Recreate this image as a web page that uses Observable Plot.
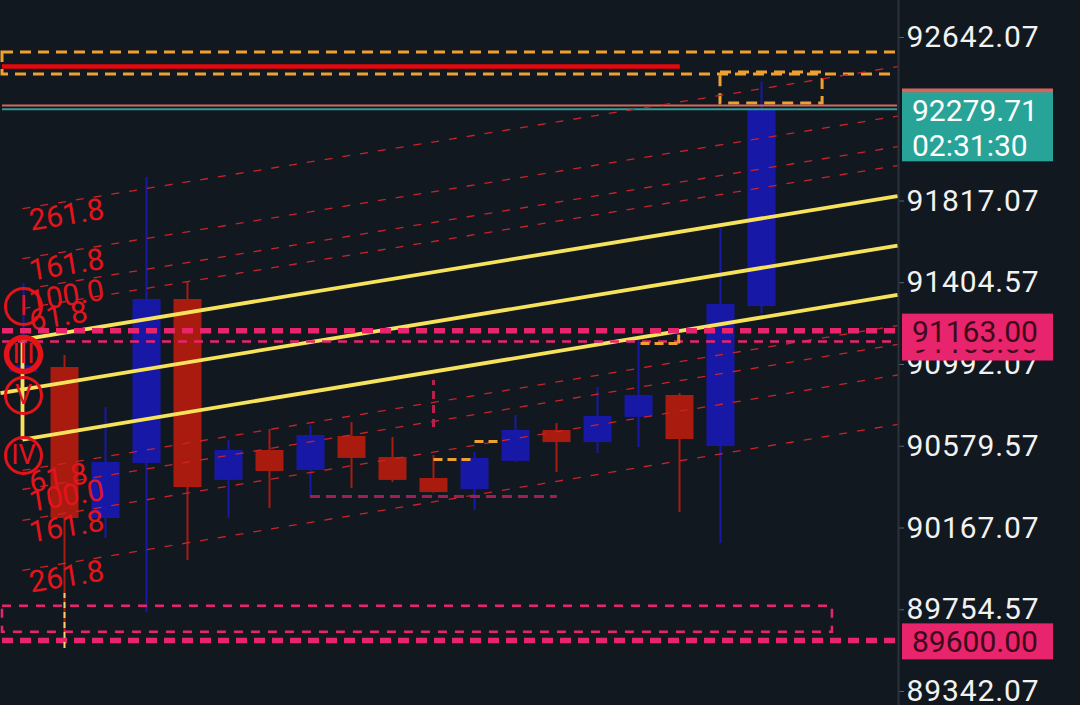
<!DOCTYPE html>
<html>
<head>
<meta charset="utf-8">
<script src="https://cdn.jsdelivr.net/npm/d3@7"></script>
<script src="https://cdn.jsdelivr.net/npm/@observablehq/plot@0.6"></script>
<style>
  html, body { margin: 0; padding: 0; background: #121820; }
  #chart svg { display: block; }
  #chart g[aria-label="y-axis tick label"] text { letter-spacing: 0.9px; }
</style>
</head>
<body>
<div id="chart"></div>
<script>
// ---------------- data ----------------
const bars   = [0, 1, 2, 3, 4, 5, 6, 7, 8, 9, 10, 11, 12, 13, 14, 15, 16, 17, 18];
const opens  = [90952, 90977, 90215, 90492, 91320, 90407, 90558, 90457, 90629, 90523, 90417, 90361, 90503, 90659, 90598, 90725, 90836, 90578, 91285];
const highs  = [91401, 91037, 90775, 91936, 91411, 90609, 90664, 90684, 90699, 90624, 90533, 90548, 90735, 90694, 90876, 91128, 90846, 91678, 92415];
const lows   = [90937, 89640, 90114, 89741, 90003, 90215, 90265, 90321, 90366, 90397, 90343, 90255, 90498, 90447, 90543, 90573, 90245, 90089, 91249];
const closes = [90985, 90215, 90498, 91320, 90371, 90558, 90452, 90634, 90518, 90407, 90346, 90518, 90659, 90598, 90730, 90836, 90614, 91295, 92279.71];

// 92229.57 also lies on the grid but is hidden behind the current-price tag
const tickValues = [92642.07, 91817.07, 91404.57, 90992.07, 90579.57, 90167.07, 89754.57, 89342.07];
const xDomain = [-0.561, 21.317];        // visible bar range
const yDomain = [89271.43, 92828.77];    // visible price range

const currentPrice = 92279.71;
const countdown = "02:31:30";
const salmonLevel = 92299;
const redLevel = 92496;
const redLevelEnd = 16.02;
const pinkThickLevels = [91163, 89600];
const pinkThinLevel = 91108;
const lineStartBar = -0.512;

const orangeZoneTop = {bar1: -0.512, bar2: 23, top: 92566.4, bottom: 92455.4};
const orangeZoneSmall = {bar1: 17.0, bar2: 19.49, top: 92465.5, bottom: 92309};
const pinkZone = {bar1: -0.512, bar2: 19.73, top: 89772.5, bottom: 89641};
const magentaLevel = {bar1: 7.0, bar2: 13.02, price: 90326};
const orangeSteps = [
  {bar1: 10.0, bar2: 11.0, price1: 90512.7, price2: 90512.7},
  {bar1: 11.0, bar2: 11.66, price1: 90603.5, price2: 90603.5},
  {bar1: 15.05, bar2: 15.98, price1: 91098, price2: 91098},
  {bar1: 15.98, bar2: 15.98, price1: 91098, price2: 91143}
];
const pinkVertical = {bar: 10.0, from: 90674, to: 90911};
const yellowDashVertical = {bar: 1, from: 89559, to: 89836.6};

// fibonacci channel
const channelBars = [-0.0244, 21.317];
const channelTop = [91118.2, 91841.8];
const channelBottom = [90613.6, 91342.8];
const fibLevels = [61.8, 100, 161.8, 261.8];
const fibLabelBar = 0.1;

// wave labels
const waveNames = ["I", "III", "V", "IV"];
const wavePrices = [91284.8, 91042.5, 90835.7, 90532.9];
const waveBar = 0;

// axis price tags
const tagPrices = [salmonLevel, currentPrice, pinkThinLevel, 91163, 89600];
const tagTexts = [[], ["92279.71", countdown], ["91108.00"], ["91163.00"], ["89600.00"]];
const tagKinds = ["salmon", "teal", "pink", "pink", "pink"];

// ---------------- derived ----------------
const candles = bars.map((b, i) => ({bar: b, open: opens[i], high: highs[i], low: lows[i], close: closes[i]}));
const up = candles.filter(d => d.close >= d.open);
const down = candles.filter(d => d.close < d.open);

const at = (b, vs) => vs[0] + (vs[1] - vs[0]) * (b - channelBars[0]) / (channelBars[1] - channelBars[0]);
const half = [0, 1].map(k => (channelTop[k] - channelBottom[k]) / 2);
const mid = [0, 1].map(k => (channelTop[k] + channelBottom[k]) / 2);

const yellowLines = [
  {x1: channelBars[0], y1: channelTop[0], x2: channelBars[1], y2: channelTop[1]},
  {x1: xDomain[0], y1: at(xDomain[0], mid), x2: channelBars[1], y2: mid[1]},
  {x1: channelBars[0], y1: channelBottom[0], x2: channelBars[1], y2: channelBottom[1]},
  {x1: channelBars[0], y1: channelBottom[0], x2: channelBars[0], y2: channelTop[0]}
];

const fibLines = [];
const fibLabels = [];
for (const L of fibLevels) {
  const f = L / 100;
  const upV = [0, 1].map(k => channelTop[k] + f * half[k]);
  const dnV = [0, 1].map(k => channelBottom[k] - f * half[k]);
  for (const v of [upV, dnV]) {
    fibLines.push({x1: channelBars[0], y1: v[0], x2: channelBars[1], y2: v[1]});
    fibLabels.push({x: fibLabelBar, y: at(fibLabelBar, v), text: L.toFixed(1)});
  }
}

const waves = waveNames.map((n, i) => ({name: n, price: wavePrices[i], bar: waveBar}));

// ---------------- colours ----------------
const BLUE = "#1818a6";
const RED = "#a81b0e";
const YELLOW = "#f7e25c";
const FIBRED = "#cc2229";
const PINK = "#e8246c";
const ORANGE = "#efa030";

// ---------------- price tag render mark ----------------
function priceTags(index, scales, values, dims) {
  const g = d3.create("svg:g")
    .attr("font-family", "Roboto, sans-serif")
    .attr("font-size", 30)
    .attr("text-anchor", "start")
    .attr("letter-spacing", "0px");
  const x0 = dims.width - dims.marginRight + 5;
  tagPrices.forEach((p, i) => {
    const y = scales.y(p);
    const kind = tagKinds[i];
    let above = 16.5, below = 19.5, fill = PINK, ink = "#3b0a1b";
    if (kind === "teal") { below = 52.5; fill = "#27a398"; ink = "#ffffff"; }
    if (kind === "salmon") { below = 18.5; fill = "#d4665e"; ink = "#ffffff"; }
    g.append("rect").attr("x", x0).attr("y", y - above).attr("width", 151)
      .attr("height", above + below).attr("fill", fill);
    tagTexts[i].forEach((s, k) => {
      g.append("text").attr("x", x0 + 10).attr("y", y + 1.5 + k * 35 + 10.6)
        .attr("fill", ink).text(s);
    });
  });
  return g.node();
}

// ---------------- plot ----------------
const hasAxisMark = typeof Plot.axisY === "function";
const fmt = d => d.toFixed(2);

const marks = [];
if (hasAxisMark) {
  marks.push(Plot.axisY(tickValues, {
    anchor: "right", tickSize: 6, tickPadding: 3, tickFormat: fmt,
    color: "#f2f2f2", stroke: "#5a636e", fontSize: 30, label: null
  }));
}
marks.push(
  Plot.ruleX([xDomain[1]], {stroke: "#2a323c", strokeWidth: 2, dx: 1}),
  Plot.ruleX(up, {x: "bar", y1: "low", y2: "high", stroke: BLUE, strokeWidth: 2}),
  Plot.ruleX(down, {x: "bar", y1: "low", y2: "high", stroke: RED, strokeWidth: 2}),
  Plot.ruleX(up, {x: "bar", y1: "open", y2: "close", stroke: BLUE, strokeWidth: 28}),
  Plot.ruleX(down, {x: "bar", y1: "open", y2: "close", stroke: RED, strokeWidth: 28}),
  Plot.rect([orangeZoneTop], {x1: "bar1", x2: "bar2", y1: "top", y2: "bottom", fill: "none", stroke: ORANGE, strokeWidth: 3, strokeDasharray: "11,7", clip: true}),
  Plot.ruleY([redLevel], {x1: lineStartBar, x2: redLevelEnd, stroke: "#e6080b", strokeWidth: 4.5}),
  Plot.rect([orangeZoneSmall], {x1: "bar1", x2: "bar2", y1: "top", y2: "bottom", fill: "none", stroke: ORANGE, strokeWidth: 3, strokeDasharray: "11,7"}),
  Plot.ruleY([salmonLevel], {x1: lineStartBar, x2: xDomain[1], stroke: "#d4665e", strokeWidth: 2}),
  Plot.ruleY([currentPrice], {x1: lineStartBar, x2: xDomain[1], stroke: "#2f9e96", strokeWidth: 2}),
  Plot.link(fibLines, {x1: "x1", y1: "y1", x2: "x2", y2: "y2", stroke: FIBRED, strokeWidth: 1.3, strokeDasharray: "8,10"}),
  Plot.text(fibLabels, {x: "x", y: "y", text: "text", rotate: -9.34, textAnchor: "start", lineAnchor: "top", dy: 2, fill: "#e3141c", fontSize: 30}),
  Plot.link(yellowLines, {x1: "x1", y1: "y1", x2: "x2", y2: "y2", stroke: YELLOW, strokeWidth: 3.8}),
  Plot.ruleY(pinkThickLevels, {x1: lineStartBar, x2: xDomain[1], stroke: PINK, strokeWidth: 5.5, strokeDasharray: "11,7"}),
  Plot.ruleY([pinkThinLevel], {x1: lineStartBar, x2: xDomain[1], stroke: PINK, strokeWidth: 2.5, strokeDasharray: "9,7"}),
  Plot.rect([pinkZone], {x1: "bar1", x2: "bar2", y1: "top", y2: "bottom", fill: "none", stroke: PINK, strokeWidth: 2.5, strokeDasharray: "9,8"}),
  Plot.ruleY([magentaLevel], {y: "price", x1: "bar1", x2: "bar2", stroke: "#a11d56", strokeWidth: 3, strokeDasharray: "10,6"}),
  Plot.ruleX([pinkVertical], {x: "bar", y1: "from", y2: "to", stroke: "#b81f4c", strokeWidth: 3, strokeDasharray: "8,6"}),
  Plot.link(orangeSteps, {x1: "bar1", x2: "bar2", y1: "price1", y2: "price2", stroke: ORANGE, strokeWidth: 3, strokeDasharray: "9,5"}),
  Plot.ruleX([yellowDashVertical], {x: "bar", y1: "from", y2: "to", stroke: "#f3d36a", strokeWidth: 2, strokeDasharray: "6,4"}),
  Plot.dot(waves.filter(d => d.name !== "III"), {x: "bar", y: "price", r: 18, stroke: "#e5121a", strokeWidth: 3, fill: "none"}),
  Plot.dot(waves.filter(d => d.name === "III"), {x: "bar", y: "price", r: 17, stroke: "#e5121a", strokeWidth: 5.5, fill: "none"}),
  Plot.text(waves, {x: "bar", y: "price", text: "name", fill: "#e5121a", fontSize: 27, fontWeight: d => d.name === "III" ? "bold" : "normal"}),
  priceTags
);

const chart = Plot.plot({
  width: 1080,
  height: 705,
  marginLeft: 0,
  marginRight: 183,
  marginTop: 0,
  marginBottom: 0,
  style: "background:#121820;color:#f2f2f2;font-family:Roboto,sans-serif;font-size:30px;overflow:visible;",
  x: {domain: xDomain, axis: null},
  y: hasAxisMark
    ? {domain: yDomain}
    : {domain: yDomain, axis: "right", ticks: tickValues, tickFormat: fmt, tickSize: 6, tickPadding: 3, label: null},
  marks
});
document.getElementById("chart").appendChild(chart);
</script>
</body>
</html>
